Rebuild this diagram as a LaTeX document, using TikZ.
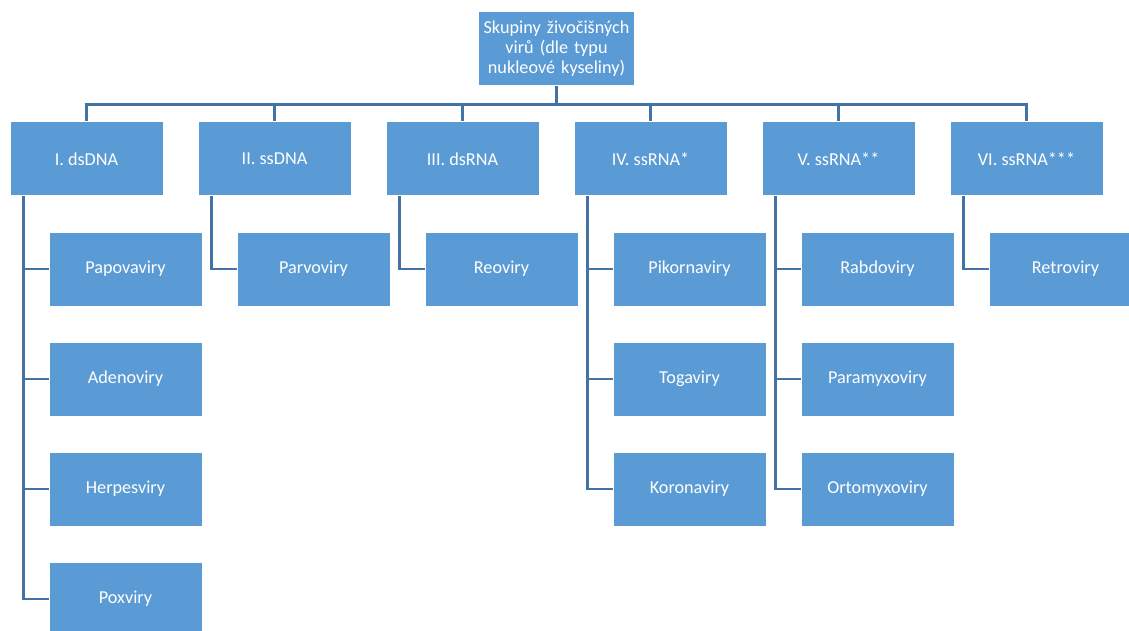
\documentclass[tikz,border=0pt]{standalone}
\usepackage{fontspec}
\setmainfont{Carlito}
\usetikzlibrary{positioning}
\definecolor{boxblue}{RGB}{91,155,213}
\definecolor{lineblue}{RGB}{68,114,162}
\begin{document}
\begin{tikzpicture}[x=1pt, y=-1pt, node distance=110pt]
    % Styles
    \tikzstyle{rootbox} = [rectangle, draw=white, line width=1pt, fill=boxblue, text=white,
        text width=150pt, align=center, minimum width=153pt, minimum height=74pt,
        font=\fontsize{18.2}{20}\selectfont]
    \tikzstyle{groupbox} = [rectangle, draw=white, line width=1pt, fill=boxblue, text=white,
        minimum width=153pt, minimum height=74pt, font=\fontsize{18.2}{20}\selectfont]
    \tikzstyle{familybox} = [groupbox]
    \tikzstyle{conn} = [draw=lineblue, line width=2.6pt]

    \useasboundingbox (0,0) rectangle (1129,631);

    % === ROOT ===
    \node [rootbox] (root) at (556.5,49) {Skupiny živočišných\\virů (dle typu\\nukleové kyseliny)};

    % === GROUPS ===
    \node [groupbox] (dsdna) at (86.5,159) {I. dsDNA};
    \node [groupbox] (ssdna) at (274.5,159) {II. ssDNA};
    \node [groupbox] (dsrna) at (462.5,159) {III. dsRNA};
    \node [groupbox] (ssrnaA) at (650.5,159) {IV. ssRNA*};
    \node [groupbox] (ssrnaB) at (838.5,159) {V. ssRNA**};
    \node [groupbox] (ssrnaC) at (1026.5,159) {VI. ssRNA***};

    % === FAMILIES ===
    % I. dsDNA
    \node [familybox, below of=dsdna, xshift=39pt] (papova) {Papovaviry};
    \node [familybox, below of=papova] (adeno) {Adenoviry};
    \node [familybox, below of=adeno] (herpes) {Herpesviry};
    \node [familybox, below of=herpes] (pox) {Poxviry};
    % II. ssDNA
    \node [familybox, below of=ssdna, xshift=39pt] (parvo) {Parvoviry};
    % III. dsRNA
    \node [familybox, below of=dsrna, xshift=39pt] (reo) {Reoviry};
    % IV. ssRNA*
    \node [familybox, below of=ssrnaA, xshift=39pt] (pikorna) {Pikornaviry};
    \node [familybox, below of=pikorna] (toga) {Togaviry};
    \node [familybox, below of=toga] (korona) {Koronaviry};
    % V. ssRNA**
    \node [familybox, below of=ssrnaB, xshift=39pt] (rabdo) {Rabdoviry};
    \node [familybox, below of=rabdo] (paramyxo) {Paramyxoviry};
    \node [familybox, below of=paramyxo] (ortomyxo) {Ortomyxoviry};
    % VI. ssRNA***
    \node [familybox, below of=ssrnaC, xshift=39pt] (retro) {Retroviry};

    % === CONNECTORS: root to groups ===
    \draw [conn] (root.south) -- ++(0,18) coordinate (bus);
    \draw [conn] (bus) -| (dsdna.north);
    \draw [conn] (bus) -| (ssdna.north);
    \draw [conn] (bus) -| (dsrna.north);
    \draw [conn] (bus) -| (ssrnaA.north);
    \draw [conn] (bus) -| (ssrnaB.north);
    \draw [conn] (bus) -| (ssrnaC.north);

    % === CONNECTORS: groups to families ===
    \draw [conn] ([xshift=14pt]dsdna.south west) |- (papova.west);
    \draw [conn] ([xshift=14pt]dsdna.south west) |- (adeno.west);
    \draw [conn] ([xshift=14pt]dsdna.south west) |- (herpes.west);
    \draw [conn] ([xshift=14pt]dsdna.south west) |- (pox.west);
    \draw [conn] ([xshift=14pt]ssdna.south west) |- (parvo.west);
    \draw [conn] ([xshift=14pt]dsrna.south west) |- (reo.west);
    \draw [conn] ([xshift=14pt]ssrnaA.south west) |- (pikorna.west);
    \draw [conn] ([xshift=14pt]ssrnaA.south west) |- (toga.west);
    \draw [conn] ([xshift=14pt]ssrnaA.south west) |- (korona.west);
    \draw [conn] ([xshift=14pt]ssrnaB.south west) |- (rabdo.west);
    \draw [conn] ([xshift=14pt]ssrnaB.south west) |- (paramyxo.west);
    \draw [conn] ([xshift=14pt]ssrnaB.south west) |- (ortomyxo.west);
    \draw [conn] ([xshift=14pt]ssrnaC.south west) |- (retro.west);

\end{tikzpicture}
\end{document}
